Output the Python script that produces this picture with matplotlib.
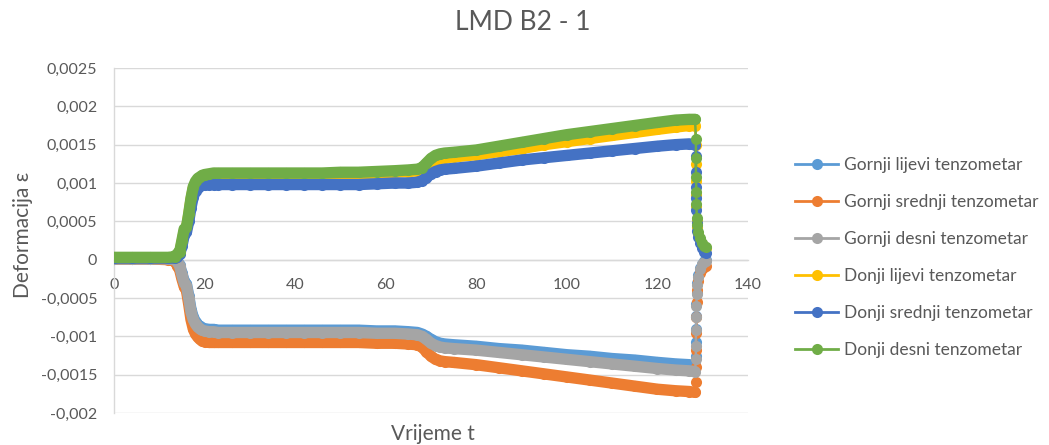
import matplotlib
matplotlib.use("Agg")
import matplotlib.pyplot as plt
from matplotlib.lines import Line2D
from matplotlib.ticker import FuncFormatter

plt.rcParams['font.family'] = ['Lato', 'DejaVu Sans']

# time axis (shared by all gauges)
t = [0, 4, 8, 12, 13.5,
     14, 14.5, 15, 15.5, 16, 16.5, 17, 17.5, 18, 18.5, 19, 19.5, 20, 21, 22, 23,
     26, 30, 34, 38, 42, 46, 50, 54, 58, 62, 65, 67,
     68, 69, 70, 71, 72, 73, 75,
     80, 85, 90, 95, 100, 105, 110, 115, 120, 124, 127, 128.3,
     128.5, 128.5, 128.5, 128.6, 128.6, 128.7, 128.8, 129.0, 129.4, 129.8, 130.3, 130.8]
n_band = 52  # samples before unloading

gornji_lijevi = [0.00001, 0.00001, 0.00001, 0.00001, 0.0,
                 -0.00002, -0.00007, -0.00018, -0.00028, -0.00032, -0.00047, -0.00065, -0.00075,
                 -0.00081, -0.00085, -0.00087, -0.00089, -0.0009, -0.00091, -0.00091, -0.00092,
                 -0.00092, -0.00092, -0.00092, -0.00092, -0.00092, -0.00092, -0.00092, -0.00092,
                 -0.00093, -0.00093, -0.00094, -0.00095,
                 -0.00097, -0.001, -0.00104, -0.00107, -0.00109, -0.0011, -0.00111,
                 -0.00113, -0.00116, -0.00118, -0.00121, -0.00124, -0.00126, -0.00129, -0.00131,
                 -0.00134, -0.00136, -0.00137, -0.00138,
                 -0.00125, -0.00108, -0.0009, -0.00073, -0.00058, -0.00043, -0.00031, -0.0002,
                 -0.00011, -0.00005, -0.00002, -0.00001]

gornji_srednji = [0.00001, 0.00001, 0.00001, 0.0, -0.00002,
                  -0.00008, -0.00013, -0.00025, -0.00035, -0.0004, -0.00058, -0.00078, -0.0009,
                  -0.00097, -0.00101, -0.00104, -0.00106, -0.00107, -0.00108, -0.00108, -0.00108,
                  -0.00108, -0.00108, -0.00108, -0.00108, -0.00108, -0.00108, -0.00108, -0.00108,
                  -0.00109, -0.00109, -0.0011, -0.00111,
                  -0.00114, -0.0012, -0.00126, -0.0013, -0.00132, -0.00133, -0.00134,
                  -0.00137, -0.00141, -0.00145, -0.00149, -0.00153, -0.00157, -0.00161, -0.00165,
                  -0.00169, -0.00171, -0.00172, -0.00173,
                  -0.0016, -0.0014, -0.00118, -0.00095, -0.00075, -0.00055, -0.0004, -0.00028,
                  -0.00018, -0.00012, -0.00009, -0.00008]

gornji_desni = [0.00001, 0.00001, 0.00001, 0.00001, 0.0,
                -0.00003, -0.00008, -0.0002, -0.0003, -0.00034, -0.0005, -0.00068, -0.00078,
                -0.00084, -0.00088, -0.0009, -0.00092, -0.00093, -0.00094, -0.00094, -0.00095,
                -0.00095, -0.00095, -0.00095, -0.00095, -0.00095, -0.00095, -0.00095, -0.00095,
                -0.00096, -0.00096, -0.00097, -0.00098,
                -0.001, -0.00104, -0.00109, -0.00112, -0.00114, -0.00115, -0.00116,
                -0.00118, -0.00121, -0.00124, -0.00127, -0.0013, -0.00133, -0.00136, -0.00139,
                -0.00142, -0.00144, -0.00145, -0.00146,
                -0.0013, -0.00112, -0.00092, -0.00075, -0.0006, -0.00045, -0.00033, -0.00022,
                -0.00012, -0.00006, -0.00003, -0.00002]

donji_lijevi = [0.00002, 0.00002, 0.00002, 0.00002, 0.00002,
                0.00006, 0.00009, 0.00022, 0.00037, 0.0004, 0.00058, 0.00078, 0.00093,
                0.001, 0.00104, 0.00106, 0.00108, 0.00109, 0.0011, 0.00111, 0.00111,
                0.00111, 0.00111, 0.00111, 0.00111, 0.00111, 0.00111, 0.00112, 0.00112,
                0.00113, 0.00114, 0.00115, 0.00116,
                0.00118, 0.00122, 0.00127, 0.0013, 0.00132, 0.00133, 0.00134,
                0.00137, 0.00141, 0.00145, 0.0015, 0.00154, 0.00158, 0.00162, 0.00166,
                0.0017, 0.00173, 0.00175, 0.00175,
                0.0015, 0.00125, 0.00102, 0.00085, 0.0007, 0.00052, 0.00043, 0.00034,
                0.00026, 0.0002, 0.00016, 0.00015]

donji_srednji = [0.00002, 0.00002, 0.00002, 0.00002, 0.00002,
                 0.00004, 0.00007, 0.00018, 0.00032, 0.00036, 0.0005, 0.00068, 0.00082,
                 0.0009, 0.00094, 0.00096, 0.00097, 0.00098, 0.00098, 0.00098, 0.00098,
                 0.00098, 0.00098, 0.00098, 0.00098, 0.00098, 0.00098, 0.00098, 0.00098,
                 0.00099, 0.001, 0.001, 0.00101,
                 0.00103, 0.00107, 0.00112, 0.00115, 0.00117, 0.00118, 0.00119,
                 0.00122, 0.00126, 0.0013, 0.00133, 0.00136, 0.00139, 0.00142, 0.00145,
                 0.00148, 0.0015, 0.00151, 0.0015,
                 0.00135, 0.00115, 0.00095, 0.0008, 0.00065, 0.00048, 0.00038, 0.0003,
                 0.00022, 0.00015, 0.0001, 0.00009]

donji_desni = [0.00003, 0.00003, 0.00003, 0.00003, 0.00004,
               0.00008, 0.0001, 0.00025, 0.0004, 0.00042, 0.0006, 0.0008, 0.00095,
               0.00102, 0.00106, 0.00108, 0.0011, 0.00111, 0.00112, 0.00113, 0.00113,
               0.00113, 0.00113, 0.00113, 0.00113, 0.00113, 0.00113, 0.00114, 0.00114,
               0.00115, 0.00116, 0.00117, 0.00118,
               0.0012, 0.00126, 0.00132, 0.00136, 0.00138, 0.00139, 0.0014,
               0.00143, 0.00148, 0.00153, 0.00158, 0.00163, 0.00167, 0.00171, 0.00175,
               0.00179, 0.00182, 0.00183, 0.00183,
               0.00158, 0.00132, 0.00108, 0.00088, 0.00072, 0.00055, 0.00045, 0.00036,
               0.00028, 0.00022, 0.00018, 0.00017]

labels = ["Gornji lijevi tenzometar", "Gornji srednji tenzometar", "Gornji desni tenzometar",
          "Donji lijevi tenzometar", "Donji srednji tenzometar", "Donji desni tenzometar"]
series = [gornji_lijevi, gornji_srednji, gornji_desni, donji_lijevi, donji_srednji, donji_desni]
colors = ["#5B9BD5", "#ED7D31", "#A5A5A5", "#FFC000", "#4472C4", "#70AD47"]

x_ticks = [0, 20, 40, 60, 80, 100, 120, 140]
y_ticks = [-0.002, -0.0015, -0.001, -0.0005, 0, 0.0005, 0.001, 0.0015, 0.002, 0.0025]

text_color = "#595959"
grid_color = "#D9D9D9"

fig = plt.figure(figsize=(10.49, 4.45), dpi=100)
ax = fig.add_axes([114 / 1049, 1 - 413 / 445, (748 - 114) / 1049, (413 - 68) / 445])

band_w = 8.2
for vals, col in zip(series, colors):
    # dense readings merge into a continuous band
    ax.plot(t[:n_band], vals[:n_band], color=col, lw=band_w,
            solid_capstyle='round', solid_joinstyle='round', zorder=3)
    ax.plot(t, vals, color=col, lw=1.8, marker='o', markersize=8,
            markeredgewidth=0, zorder=3)

ax.set_xlim(0, 140)
ax.set_ylim(-0.002, 0.0025)
ax.set_yticks(y_ticks)
ax.set_xticks(x_ticks)
ax.yaxis.set_major_formatter(FuncFormatter(
    lambda v, p: "0" if abs(v) < 1e-12 else ("%g" % v).replace(".", ",")))
ax.xaxis.set_major_formatter(FuncFormatter(lambda v, p: "%d" % v))

ax.grid(axis='y', color=grid_color, lw=1.0, zorder=0)
ax.set_axisbelow(True)
for side in ['top', 'right']:
    ax.spines[side].set_visible(False)
ax.spines['left'].set_color(grid_color)
ax.spines['left'].set_linewidth(1.0)
ax.spines['bottom'].set_position(('data', 0))
ax.spines['bottom'].set_color(grid_color)
ax.spines['bottom'].set_linewidth(1.0)

ax.tick_params(axis='both', length=0, labelsize=11.5, labelcolor=text_color)
ax.tick_params(axis='y', pad=12)
ax.tick_params(axis='x', pad=13)

ax.set_xlabel("Vrijeme t", fontsize=15, color=text_color)
ax.xaxis.set_label_coords((433 - 114) / (748 - 114), -0.032)
ax.set_ylabel("Deformacija ε", fontsize=15, color=text_color)
ax.yaxis.set_label_coords(-0.128, (413 - 235) / (413 - 68))

fig.text(523 / 1049, 1 - 22 / 445, "LMD B2 - 1", fontsize=19, color=text_color,
         ha='center', va='center')

handles = [Line2D([0], [0], color=c, lw=2, marker='o', markersize=8, markeredgewidth=0)
           for c in colors]
fig.legend(handles, labels, loc='center left', bbox_to_anchor=(795 / 1049, 1 - 257.5 / 445),
           frameon=False, fontsize=12.5, labelcolor=text_color, handlelength=2.5,
           handletextpad=0.3, labelspacing=1.2, borderpad=0, borderaxespad=0)

fig.savefig("out.png", dpi=100)
